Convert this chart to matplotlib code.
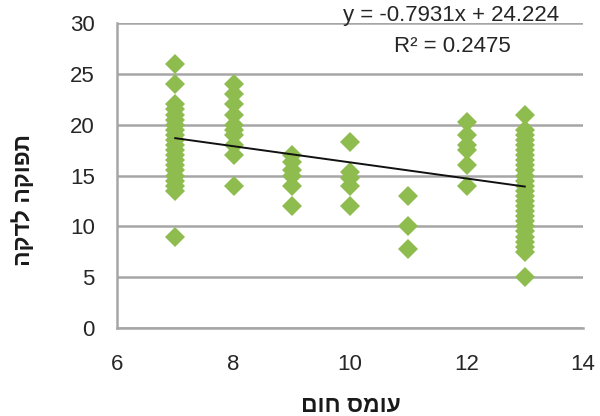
import matplotlib
matplotlib.use("Agg")
import matplotlib.pyplot as plt
import numpy as np

x7 = [26, 24, 22, 21.5, 21, 20.5, 20, 19.5, 19, 18.5, 18, 17.5, 17, 16.5, 16, 15.5, 15, 14.5, 14, 13.5, 9]
x8 = [24, 23, 22, 21, 20, 19.5, 19, 18, 17, 14]
x9 = [17, 16.3, 15.5, 15, 14, 12]
x10 = [18.3, 15.3, 14.8, 14, 12]
x11 = [13, 10, 7.8]
x12 = [20.3, 19, 18, 17.5, 16, 14]
x13 = [21, 19.5, 19, 18.5, 18, 17.5, 17, 16.5, 16, 15.5, 15, 14.5, 14, 13.5, 13,
       12.5, 12, 11.5, 11, 10.5, 10, 9.5, 9, 8.5, 8, 7.5, 5]
groups = {7: x7, 8: x8, 9: x9, 10: x10, 11: x11, 12: x12, 13: x13}

slope = -0.7931
intercept = 24.224
r2 = 0.2475

xlabel = "עומס חום"
ylabel = "תפוקה לדקה"

xs = np.concatenate([[k] * len(v) for k, v in groups.items()])
ys = np.concatenate([v for v in groups.values()])

plt.rcParams['font.family'] = ['Liberation Sans', 'DejaVu Sans']

fig = plt.figure(figsize=(6.0, 4.16), dpi=100)
ax = fig.add_axes([117 / 600, 1 - 328 / 416, (583 - 117) / 600, (328 - 23) / 416])

ax.set_xlim(6, 14)
ax.set_ylim(0, 30)
ax.set_xticks([6, 8, 10, 12, 14])
ax.set_yticks([0, 5, 10, 15, 20, 25, 30])
ax.yaxis.grid(True, color='#a6a6a6', linewidth=1.8)
ax.set_axisbelow(True)
for s in ['top', 'right']:
    ax.spines[s].set_visible(False)
for s in ['left', 'bottom']:
    ax.spines[s].set_color('#a6a6a6')
    ax.spines[s].set_linewidth(1.8)
ax.tick_params(axis='both', length=0, labelsize=16, colors='#262626')
ax.tick_params(axis='y', pad=16)
ax.tick_params(axis='x', pad=19)

ax.plot(xs, ys, linestyle='none', marker='D', markersize=10.5,
        color='#8fbc4e', markeredgewidth=0, zorder=3)

tx = np.array([xs.min(), xs.max()])
ax.plot(tx, slope * tx + intercept, color='#111111', linewidth=1.4, zorder=4)

fig.text(451 / 600, 1 - 15 / 416, f"y = {slope}x + {intercept}", ha='center', va='center',
         fontsize=16, color='#262626')
fig.text(452 / 600, 1 - 47 / 416, f"R² = {r2}", ha='center', va='center',
         fontsize=16, color='#262626')

fig.text(351 / 600, 1 - 405 / 416, xlabel[::-1], ha='center', va='center',
         fontsize=16.5, fontweight='bold', color='#1a1a1a')
fig.text(24 / 600, 1 - 200 / 416, ylabel[::-1], ha='center', va='center', rotation=90,
         fontsize=16.5, fontweight='bold', color='#1a1a1a')

fig.savefig("out.png", dpi=100)
